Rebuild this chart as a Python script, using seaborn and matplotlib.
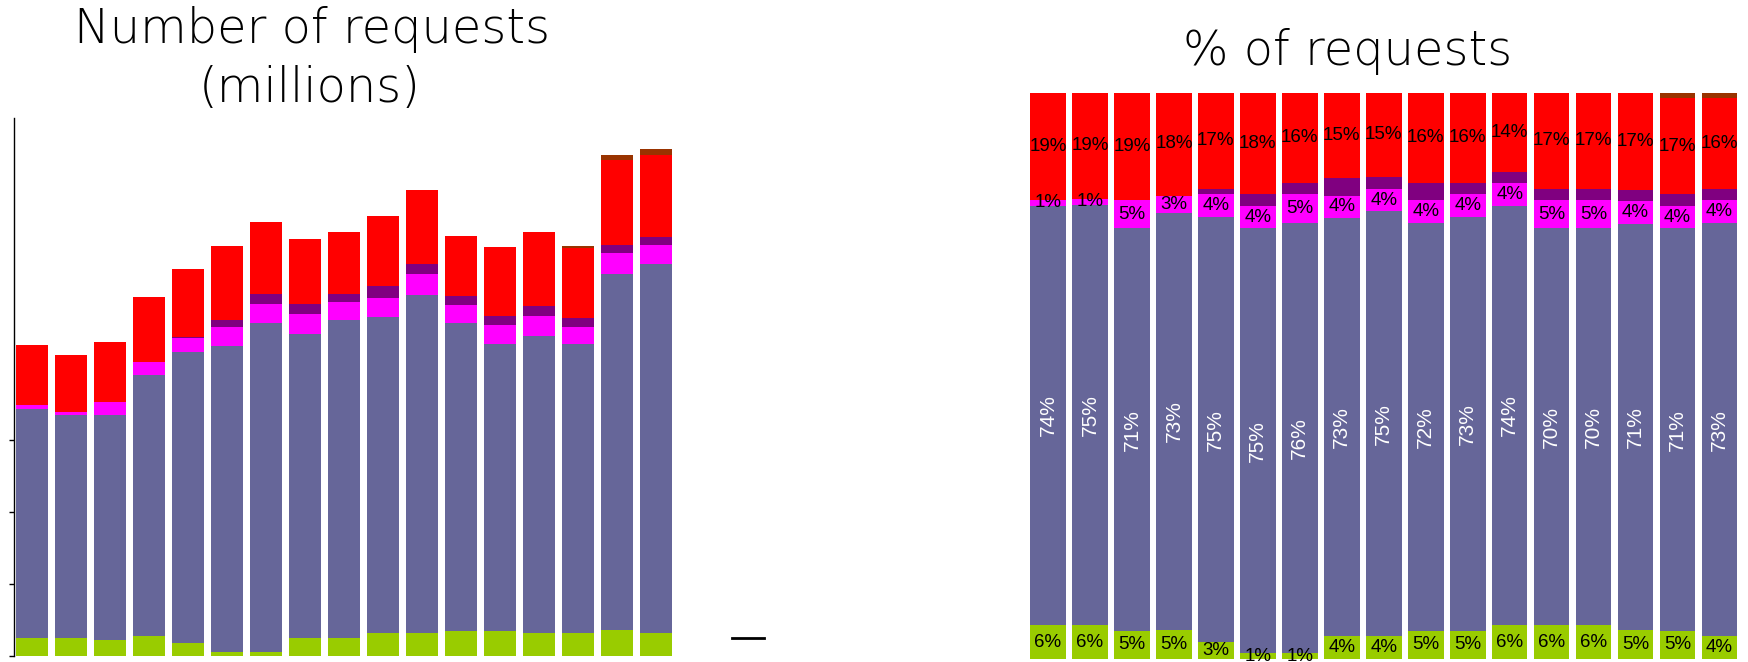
import numpy as np
import pandas as pd
import matplotlib
matplotlib.use("Agg")
import matplotlib.pyplot as plt
import seaborn as sns
from matplotlib.lines import Line2D

# ---------------- data ----------------
periods = [f"P{i}" for i in range(1, 18)]

# Number of requests (millions) - stacked components, bottom to top
req_green   = [2.5, 2.5, 2.2, 2.8, 1.8, 0.5, 0.5, 2.5, 2.5, 3.2, 3.2, 3.5, 3.5, 3.2, 3.2, 3.6, 3.2]
req_slate   = [31.8, 31.0, 31.2, 36.2, 40.4, 42.5, 45.7, 42.2, 44.2, 43.9, 46.9, 42.8, 39.8, 41.2, 40.1, 49.4, 51.2]
req_magenta = [0.5, 0.35, 1.8, 1.8, 1.9, 2.7, 2.7, 2.8, 2.5, 2.6, 2.9, 2.4, 2.7, 2.8, 2.4, 2.9, 2.6]
req_purple  = [0, 0, 0, 0, 0.25, 0.9, 1.3, 1.4, 1.1, 1.7, 1.4, 1.3, 1.2, 1.4, 1.2, 1.1, 1.2]
req_red     = [8.4, 8.0, 8.4, 9.1, 9.4, 10.3, 10.1, 9.0, 8.6, 9.7, 10.3, 8.3, 9.6, 10.3, 9.8, 11.9, 11.4]
req_brown   = [0, 0, 0, 0, 0, 0, 0, 0, 0, 0, 0, 0, 0, 0, 0.25, 0.6, 0.8]

# % of requests (labels as printed; purple/brown unlabeled, estimated)
pct_green   = [6, 6, 5, 5, 3, 1, 1, 4, 4, 5, 5, 6, 6, 6, 5, 5, 4]
pct_slate   = [74, 75, 71, 73, 75, 75, 76, 73, 75, 72, 73, 74, 70, 70, 71, 71, 73]
pct_magenta = [1, 1, 5, 3, 4, 4, 5, 4, 4, 4, 4, 4, 5, 5, 4, 4, 4]
pct_purple  = [0, 0, 0, 0, 1, 2, 2, 3, 2, 3, 2, 2, 2, 2, 2, 2, 2]
pct_red     = [19, 19, 19, 18, 17, 18, 16, 15, 15, 16, 16, 14, 17, 17, 17, 17, 16]
pct_brown   = [0, 0, 0, 0, 0, 0, 0, 0, 0, 0, 0, 0, 0, 0, 0, 1, 1]

colors = ["#99CC00", "#666699", "#FF00FF", "#800080", "#FF0000", "#993300"]

# ---------------- figure ----------------
W, H = 1748, 662
fig = plt.figure(figsize=(W / 100, H / 100), dpi=100)

title_font = dict(family=["DejaVu Sans"], weight="light", size=34.5, color="black")
label_family = ["Liberation Sans", "DejaVu Sans"]

# ---- left panel: absolute numbers ----
ax1 = fig.add_axes([14 / W, 6 / H, (680 - 14) / W, 538 / H])
layers_abs = [req_green, req_slate, req_magenta, req_purple, req_red, req_brown]
bottom = np.zeros(len(periods))
for vals, col in zip(layers_abs, colors):
    sns.barplot(x=periods, y=vals, bottom=bottom, color=col, saturation=1,
                width=0.82, errorbar=None, linewidth=0, ax=ax1)
    bottom = bottom + np.array(vals)
ax1.set_xlim(-0.462, 16.62)
ax1.set_ylim(0, 74.7)
ax1.set_yticks([0, 10, 20, 30])
ax1.set_yticklabels([])
ax1.set_xticks([])
ax1.set_xlabel("")
ax1.set_ylabel("")
for s in ["top", "right", "bottom"]:
    ax1.spines[s].set_visible(False)
ax1.spines["left"].set_linewidth(1.0)
ax1.spines["left"].set_color("black")
ax1.tick_params(axis="y", length=3.5, width=1, color="black")
ax1.patch.set_alpha(0)

# ---- right panel: percentages ----
ax2 = fig.add_axes([1027 / W, 3 / H, 713.5 / W, 566.5 / H])
layers_pct = np.array([pct_green, pct_slate, pct_magenta, pct_purple, pct_red, pct_brown], dtype=float)
totals = layers_pct.sum(axis=0)
layers_norm = layers_pct / totals * 100
bottom = np.zeros(len(periods))
labelled = [True, True, True, False, True, False]
for k, (vals, col) in enumerate(zip(layers_norm, colors)):
    sns.barplot(x=periods, y=vals, bottom=bottom, color=col, saturation=1,
                width=0.85, errorbar=None, linewidth=0, ax=ax2)
    if labelled[k]:
        for i in range(len(periods)):
            yc = bottom[i] + vals[i] / 2
            txt = f"{int(layers_pct[k][i])}%"
            if k == 1:
                ax2.text(i, yc, txt, ha="center", va="center", rotation=90,
                         color="white", fontsize=15, family=label_family, clip_on=False)
            else:
                ax2.text(i, yc, txt, ha="center", va="center",
                         color="black", fontsize=13.5, family=label_family, clip_on=False)
    bottom = bottom + vals
ax2.set_xlim(-0.5, 16.5)
ax2.set_ylim(0, 100)
ax2.set_xticks([])
ax2.set_yticks([])
ax2.set_xlabel("")
ax2.set_ylabel("")
for s in ax2.spines.values():
    s.set_visible(False)
ax2.patch.set_alpha(0)

# ---- titles ----
fig.text(312 / W, 1 - 43 / H, "Number of requests", ha="center", va="baseline", **title_font)
fig.text(310 / W, 1 - 101.5 / H, "(millions)", ha="center", va="baseline", **title_font)
fig.text(1347.5 / W, 1 - 65 / H, "% of requests", ha="center", va="baseline", **title_font)

# ---- stray legend dash ----
fig.legend(handles=[Line2D([], [], color="black", linewidth=2.0)], labels=[""],
           loc="center left", bbox_to_anchor=(732 / W, 1 - 638.5 / H),
           frameon=False, fontsize=10, handlelength=2.3, handletextpad=0,
           borderpad=0, borderaxespad=0)

fig.savefig("out.png", dpi=100)
